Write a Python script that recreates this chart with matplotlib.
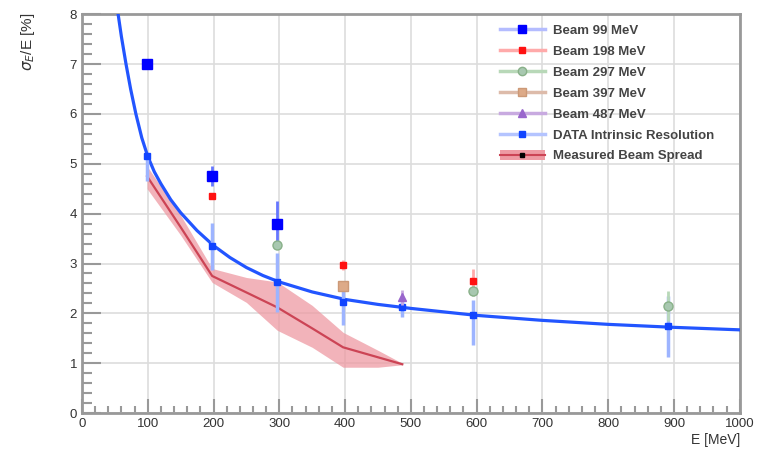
import matplotlib
matplotlib.use("Agg")
import matplotlib.pyplot as plt
from matplotlib.lines import Line2D
from matplotlib.patches import Patch
from matplotlib.ticker import MultipleLocator

plt.rcParams['font.family'] = ['Liberation Sans', 'DejaVu Sans']

# fitted resolution curve
fitE = [55, 60, 67, 74, 82, 91, 100, 110, 120, 135, 150, 175, 200, 225, 250, 275, 300,
        350, 400, 450, 500, 600, 700, 800, 900, 1000]
fitRes = [8.0, 7.55, 7.0, 6.5, 6.0, 5.52, 5.15, 4.84, 4.6, 4.28, 4.02, 3.66, 3.36,
          3.12, 2.92, 2.76, 2.63, 2.43, 2.28, 2.18, 2.1, 1.96, 1.86, 1.78, 1.72, 1.67]

# measured beam spread band
spreadE = [99, 150, 198, 250, 297, 350, 397, 450, 487]
spreadMid = [4.75, 3.73, 2.75, 2.42, 2.12, 1.7, 1.32, 1.12, 0.98]
spreadLow = [4.5, 3.57, 2.62, 2.22, 1.66, 1.32, 0.92, 0.92, 0.97]
spreadHigh = [4.95, 3.97, 2.9, 2.72, 2.63, 2.16, 1.62, 1.26, 1.0]

# beam energies
beam99E = [99, 198, 297]
beam99Res = [7.0, 4.75, 3.8]
beam99Err = [0.05, 0.2, 0.45]

beam198E = [198, 397, 594]
beam198Res = [4.35, 2.97, 2.65]
beam198Err = [0.05, 0.1, 0.25]

beam297E = [297, 594, 891]
beam297Res = [3.38, 2.45, 2.15]
beam297Err = [0.05, 0.1, 0.3]

beam397E = [397]
beam397Res = [2.55]
beam397Err = [0.1]

beam487E = [487]
beam487Res = [2.32]
beam487Err = [0.15]

dataE = [99, 198, 297, 397, 487, 594, 891]
dataRes = [5.15, 3.35, 2.62, 2.22, 2.12, 1.96, 1.75]
dataErrLow = [0.5, 0.47, 0.6, 0.45, 0.2, 0.6, 0.62]
dataErrHigh = [0.05, 0.47, 0.6, 0.4, 0.2, 0.3, 0.6]

legendLabels = ["Beam 99 MeV", "Beam 198 MeV", "Beam 297 MeV", "Beam 397 MeV",
                "Beam 487 MeV", "DATA Intrinsic Resolution", "Measured Beam Spread"]

fig = plt.figure(figsize=(7.73, 4.57), dpi=100)
ax = fig.add_axes([0.106, 0.096, 0.851, 0.873])

ax.grid(True, color='#dddddd', lw=1.2, zorder=0)
ax.set_axisbelow(True)

# beam spread band + line
ax.fill_between(spreadE, spreadLow, spreadHigh, color='#ee9aa3', alpha=0.75, lw=0, zorder=2)
ax.plot(spreadE, spreadMid, color='#cc4455', lw=1.6, zorder=3)

# fit
ax.plot(fitE, fitRes, color='#2255ff', lw=2.3, zorder=4)

# data intrinsic
ax.errorbar(dataE, dataRes, yerr=[dataErrLow, dataErrHigh], fmt='s', ms=5,
            color='#1144ff', ecolor='#9db4ff', elinewidth=2.5, capsize=0, zorder=5)

def beam(E, res, err, mk, col, ecol, ms, mfc=None):
    ax.errorbar(E, res, yerr=err, fmt=mk, ms=ms, color=col, mfc=mfc if mfc else col,
                mec=col, ecolor=ecol, elinewidth=2, capsize=0, zorder=6)

beam(beam99E, beam99Res, beam99Err, 's', '#0000ff', '#6677ff', 7)
beam(beam198E, beam198Res, beam198Err, 's', '#ff1111', '#ffaaaa', 4)
beam(beam297E, beam297Res, beam297Err, 'o', '#88b088', '#b8d8b8', 6.5, mfc='#a8c8b0')
beam(beam397E, beam397Res, beam397Err, 's', '#cc9977', '#ddbbaa', 6.5, mfc='#ddaa88')
beam(beam487E, beam487Res, beam487Err, '^', '#9966cc', '#c8aae0', 6)

ax.set_xlim(0, 1000)
ax.set_ylim(0, 8)
ax.xaxis.set_major_locator(MultipleLocator(100))
ax.xaxis.set_minor_locator(MultipleLocator(20))
ax.yaxis.set_major_locator(MultipleLocator(1))
ax.yaxis.set_minor_locator(MultipleLocator(0.2))
ax.tick_params(which='both', direction='in', top=False, right=False,
               colors='#999999', labelcolor='#333333', labelsize=9.5)
ax.tick_params(axis='y', which='major', length=14, width=1.5)
ax.tick_params(axis='y', which='minor', length=7, width=1.5)
ax.tick_params(axis='x', which='major', length=10, width=1.5)
ax.tick_params(axis='x', which='minor', length=5, width=1.5)
for s in ax.spines.values():
    s.set_color('#999999')
    s.set_linewidth(2)

ax.set_xlabel("E [MeV]", fontsize=10, color='#333333', loc='right', labelpad=2)
fig.text(28 / 773, 1 - 13 / 457, r"$\sigma_E$/E [%]", rotation=90, fontsize=11,
         color='#333333', ha='center', va='top')

# legend proxies
handles = [
    Line2D([], [], color='#b4bcff', lw=2.5, marker='s', ms=6, mfc='#0000ff', mec='#0000ff'),
    Line2D([], [], color='#ffaaaa', lw=2.5, marker='s', ms=4, mfc='#ff1111', mec='#ff1111'),
    Line2D([], [], color='#b8d8b8', lw=2.5, marker='o', ms=6, mfc='#a8c8b0', mec='#88b088'),
    Line2D([], [], color='#ddbbaa', lw=2.5, marker='s', ms=6, mfc='#ddaa88', mec='#cc9977'),
    Line2D([], [], color='#c8aae0', lw=2.5, marker='^', ms=6, mfc='#9966cc', mec='#9966cc'),
    Line2D([], [], color='#b4c4ff', lw=2.5, marker='s', ms=5, mfc='#1144ff', mec='#1144ff'),
    (Patch(facecolor='#ee9aa3', edgecolor='none'),
     Line2D([], [], color='#cc4455', lw=1.5),
     Line2D([], [], ls='none', marker='s', ms=3, color='black')),
]
leg = ax.legend(handles, legendLabels, loc='upper left',
                bbox_to_anchor=((500 - 82) / 658, (413 - 24) / 399),
                prop={'size': 9.5, 'weight': 'bold'}, frameon=False, handlelength=3.4,
                handleheight=0.8, labelspacing=0.63, borderpad=0, borderaxespad=0,
                handletextpad=0.6)
for t in leg.get_texts():
    t.set_color('#444444')

fig.savefig('out.png', dpi=100)
